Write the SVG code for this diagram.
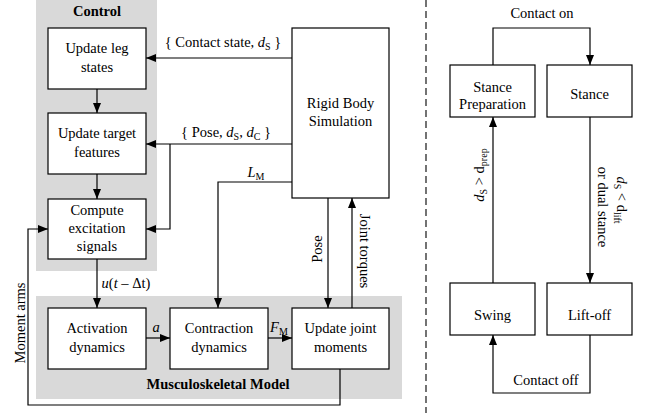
<svg xmlns="http://www.w3.org/2000/svg" width="646" height="413" viewBox="0 0 646 413" font-family="'Liberation Serif', 'Times New Roman', Tinos, 'DejaVu Serif', serif">
<style>
text{font-family:'Liberation Serif','Times New Roman',Tinos,'DejaVu Serif',serif;font-size:14.5px;fill:#000;text-anchor:middle}
.b{font-weight:bold}
.box{fill:#fff;stroke:#000;stroke-width:1.2}
.panel{fill:#d9d9d9;stroke:none}
.c{fill:none;stroke:#000;stroke-width:1.2}
.a{marker-end:url(#arr)}
.i{font-style:italic}
.s{font-size:10px}
</style>
<defs>
<marker id="arr" viewBox="0 0 10 8" refX="10" refY="4" markerWidth="10" markerHeight="8" markerUnits="userSpaceOnUse" orient="auto">
<path d="M0,0 L10,4 L0,8 z" fill="#000"/>
</marker>
</defs>
<rect class="panel" x="36" y="0" width="121" height="271"/>
<rect class="panel" x="36" y="296" width="366" height="103"/>
<text class="b" x="97" y="16">Control</text>
<text class="b" x="218" y="389">Musculoskeletal Model</text>
<line x1="426" y1="0" x2="426" y2="413" stroke="#000" stroke-width="1.1" stroke-dasharray="7,4"/>
<g id="connectors">
<path class="c a" d="M292,58 H146"/>
<path class="c a" d="M292,144 H146"/>
<path class="c a" d="M170,144 V229 H146"/>
<path class="c a" d="M292,182 H218 V308"/>
<path class="c a" d="M97,89 V113"/>
<path class="c a" d="M97,174 V199"/>
<path class="c a" d="M97,259 V308"/>
<path class="c a" d="M146,338 H170"/>
<path class="c a" d="M268,338 H292"/>
<path class="c a" d="M328,198 V308"/>
<path class="c a" d="M352,308 V198"/>
<path class="c a" d="M340,369 V405 H28 V229 H48"/>
<path class="c a" d="M493,65 V28 H590 V65"/>
<path class="c a" d="M590,117 V283"/>
<path class="c a" d="M590,335 V393 H493 V335"/>
<path class="c a" d="M493,283 V117"/>
<text x="223" y="47">{ Contact state, <tspan class="i">d</tspan><tspan class="s" dy="3">S</tspan><tspan dy="-3"> }</tspan></text>
<text x="226" y="137">{ Pose, <tspan class="i">d</tspan><tspan class="s" dy="3">S</tspan><tspan dy="-3">, </tspan><tspan class="i">d</tspan><tspan class="s" dy="3">C</tspan><tspan dy="-3"> }</tspan></text>
<text x="256" y="177"><tspan class="i">L</tspan><tspan class="s" dy="3">M</tspan></text>
<text x="126" y="288"><tspan class="i">u</tspan>(<tspan class="i">t</tspan> – Δt)</text>
<text x="156" y="332" class="i">a</text>
<text x="279" y="332"><tspan class="i">F</tspan><tspan class="s" dy="3">M</tspan></text>
<text transform="translate(322,249) rotate(-90)">Pose</text>
<text transform="translate(360,251) rotate(90)">Joint torques</text>
<text transform="translate(25,323) rotate(-90)">Moment arms</text>
<text x="542" y="18">Contact on</text>
<text x="546" y="385">Contact off</text>
<text transform="translate(484,175) rotate(-90)"><tspan class="i">d</tspan><tspan class="s" dy="3">S</tspan><tspan dy="-3"> &gt; d</tspan><tspan class="s" dy="3">prep</tspan></text>
<text transform="translate(617,200) rotate(90)"><tspan class="i">d</tspan><tspan class="s" dy="3">S</tspan><tspan dy="-3"> &lt; d</tspan><tspan class="s" dy="3">lift</tspan></text>
<text transform="translate(598,207) rotate(90)">or dual stance</text>
</g>
<g id="update-leg-states"><rect class="box" x="48" y="28" width="98" height="61"/><text x="97" y="53">Update leg</text><text x="97" y="72">states</text></g>
<g id="update-target-features"><rect class="box" x="48" y="113" width="98" height="61"/><text x="97" y="138">Update target</text><text x="97" y="157">features</text></g>
<g id="compute-excitation"><rect class="box" x="48" y="199" width="98" height="60"/><text x="97" y="215">Compute</text><text x="97" y="233">excitation</text><text x="97" y="251">signals</text></g>
<g id="rigid-body"><rect class="box" x="292" y="28" width="97" height="170"/><text x="340.5" y="108">Rigid Body</text><text x="340.5" y="126">Simulation</text></g>
<g id="activation"><rect class="box" x="48" y="308" width="98" height="61"/><text x="97" y="333">Activation</text><text x="97" y="352">dynamics</text></g>
<g id="contraction"><rect class="box" x="170" y="308" width="98" height="61"/><text x="219" y="333">Contraction</text><text x="219" y="352">dynamics</text></g>
<g id="update-joint"><rect class="box" x="292" y="308" width="97" height="61"/><text x="340.5" y="333">Update joint</text><text x="340.5" y="352">moments</text></g>
<g id="stance-prep"><rect class="box" x="450" y="65" width="85" height="52"/><text x="492.5" y="92">Stance</text><text x="492.5" y="109">Preparation</text></g>
<g id="stance"><rect class="box" x="547" y="65" width="85" height="52"/><text x="589.5" y="99">Stance</text></g>
<g id="swing"><rect class="box" x="450" y="283" width="85" height="52"/><text x="492.5" y="320">Swing</text></g>
<g id="lift-off"><rect class="box" x="547" y="283" width="85" height="52"/><text x="589.5" y="320">Lift-off</text></g>
</svg>
